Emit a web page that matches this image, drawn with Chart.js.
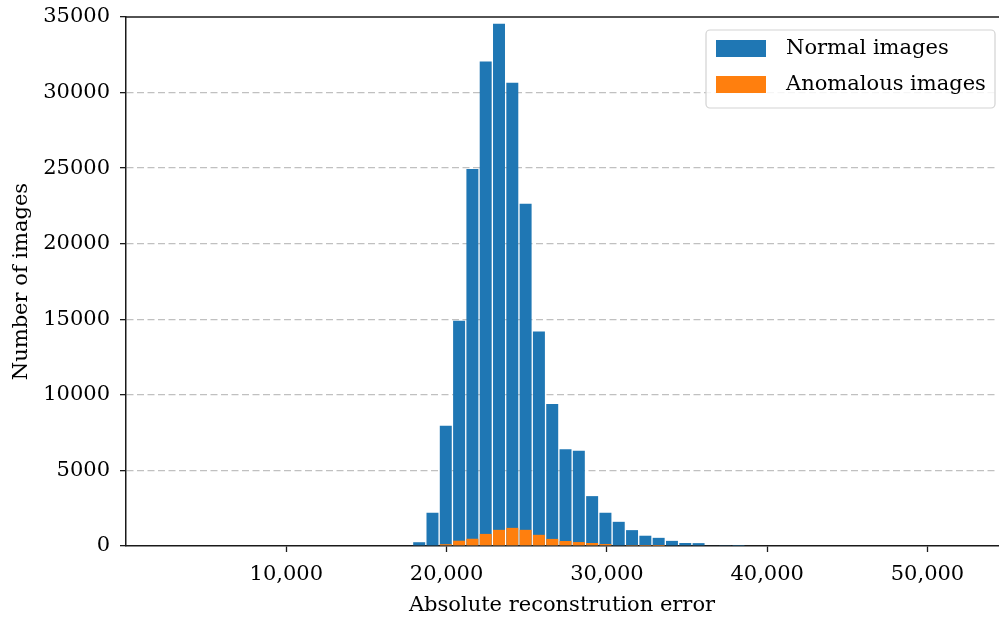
<!DOCTYPE html>
<html>
<head>
<meta charset="utf-8">
<script src="https://cdn.jsdelivr.net/npm/chart.js@4.4.0/dist/chart.umd.min.js"></script>
<style>
  html, body { margin: 0; padding: 0; background: #fff; }
  #wrap { width: 999px; height: 619px; }
</style>
</head>
<body>
<div id="wrap"><canvas id="chart" width="999" height="619"></canvas></div>
<script>
// histogram bins (centre of each bin, absolute reconstruction error)
const binCenters = [18290, 19120, 19950, 20780, 21610, 22440, 23270, 24100, 24930, 25760,
                    26590, 27420, 28250, 29080, 29910, 30740, 31570, 32400, 33230, 34060,
                    34890, 35720, 36550, 37380, 38210];
const normalCounts = [250, 2200, 7950, 14900, 24950, 32050, 34550, 30650, 22650, 14200,
                      9400, 6400, 6300, 3300, 2200, 1600, 1050, 680, 540, 340,
                      200, 190, 40, 30, 15];
const anomalousCounts = [0, 0, 120, 350, 480, 800, 1070, 1200, 1070, 740,
                         470, 330, 260, 200, 130, 40, 20, 10, 5, 0,
                         0, 0, 0, 0, 0];
const xTicks = [10000, 20000, 30000, 40000, 50000];
const yTicks = [0, 5000, 10000, 15000, 20000, 25000, 30000, 35000];

const FONT = "'DejaVu Serif', serif";
const FSIZE = 21;

const toPoints = counts => binCenters.map((x, i) => ({ x: x, y: counts[i] }));

// legend drawn inside the plot, upper right
const boxLegend = {
    id: 'boxLegend',
    afterDraw(chart) {
        const ctx = chart.ctx;
        const x = 706, y = 30, w = 289, h = 78;
        ctx.save();
        ctx.fillStyle = 'rgba(255,255,255,0.85)';
        ctx.strokeStyle = '#d3d3d3';
        ctx.lineWidth = 1.2;
        ctx.beginPath();
        ctx.roundRect(x, y, w, h, 4);
        ctx.fill();
        ctx.stroke();
        ctx.font = FSIZE + 'px ' + FONT;
        ctx.textBaseline = 'middle';
        chart.data.datasets.forEach((ds, i) => {
            const rowY = y + 10 + i * 36;
            ctx.fillStyle = ds.backgroundColor;
            ctx.fillRect(x + 10, rowY, 50, 17);
            ctx.fillStyle = '#000';
            ctx.fillText(ds.label, x + 80, rowY + 9);
        });
        ctx.restore();
    }
};

// top spine
const topSpine = {
    id: 'topSpine',
    afterDraw(chart) {
        const { ctx, chartArea } = chart;
        ctx.save();
        ctx.strokeStyle = '#1a1a1a';
        ctx.lineWidth = 1.5;
        ctx.beginPath();
        ctx.moveTo(chartArea.left - 0.75, chartArea.top);
        ctx.lineTo(chartArea.right + 1, chartArea.top);
        ctx.stroke();
        ctx.restore();
    }
};

new Chart(document.getElementById('chart'), {
    type: 'bar',
    data: {
        datasets: [
            {
                label: 'Normal images',
                data: toPoints(normalCounts),
                backgroundColor: '#1f77b4',
                order: 1,
                grouped: false,
                barPercentage: 0.9,
                categoryPercentage: 1.0
            },
            {
                label: 'Anomalous images',
                data: toPoints(anomalousCounts),
                backgroundColor: '#ff7f0e',
                order: 0,
                grouped: false,
                barPercentage: 0.9,
                categoryPercentage: 1.0
            }
        ]
    },
    options: {
        responsive: false,
        devicePixelRatio: 1,
        animation: false,
        layout: { padding: { left: 0, top: 17, right: 1, bottom: 0 } },
        plugins: {
            legend: { display: false },
            tooltip: { enabled: false }
        },
        scales: {
            x: {
                type: 'linear',
                min: 0,
                max: 54400,
                offset: false,
                afterBuildTicks: scale => { scale.ticks = xTicks.map(v => ({ value: v })); },
                afterFit: scale => { scale.height = 73; },
                grid: {
                    offset: false,
                    drawOnChartArea: false,
                    drawTicks: true,
                    tickLength: 6,
                    tickColor: '#1a1a1a',
                    tickWidth: 1.3
                },
                border: { display: true, color: '#1a1a1a', width: 1.5 },
                ticks: {
                    color: '#000',
                    font: { family: FONT, size: FSIZE },
                    padding: 10,
                    maxRotation: 0,
                    callback: v => v.toLocaleString('en-US')
                },
                title: {
                    display: true,
                    text: 'Absolute reconstrution error',
                    color: '#000',
                    font: { family: FONT, size: FSIZE },
                    padding: { top: 0, bottom: 1 }
                }
            },
            y: {
                min: 0,
                max: 35000,
                z: 1,
                afterBuildTicks: scale => { scale.ticks = yTicks.map(v => ({ value: v })); },
                afterFit: scale => {
                    scale.width = 126;
                    scale.paddingTop = 0;
                    scale.paddingBottom = 0;
                },
                grid: {
                    drawTicks: true,
                    tickLength: 6,
                    tickColor: '#1a1a1a',
                    tickWidth: 1.3,
                    lineWidth: 1.3,
                    color: ctx => (ctx.tick && (ctx.tick.value === 0 || ctx.tick.value === 35000)) ? 'rgba(0,0,0,0)' : 'rgba(185,185,185,0.9)'
                },
                border: { display: true, color: '#1a1a1a', width: 1.5, dash: [7, 3.5] },
                ticks: {
                    color: '#000',
                    font: { family: FONT, size: FSIZE },
                    padding: 10,
                    callback: v => String(v)
                },
                title: {
                    display: true,
                    text: 'Number of images',
                    color: '#000',
                    font: { family: FONT, size: FSIZE },
                    padding: { top: 9, bottom: 0 }
                }
            }
        }
    },
    plugins: [boxLegend, topSpine]
});
</script>
</body>
</html>
